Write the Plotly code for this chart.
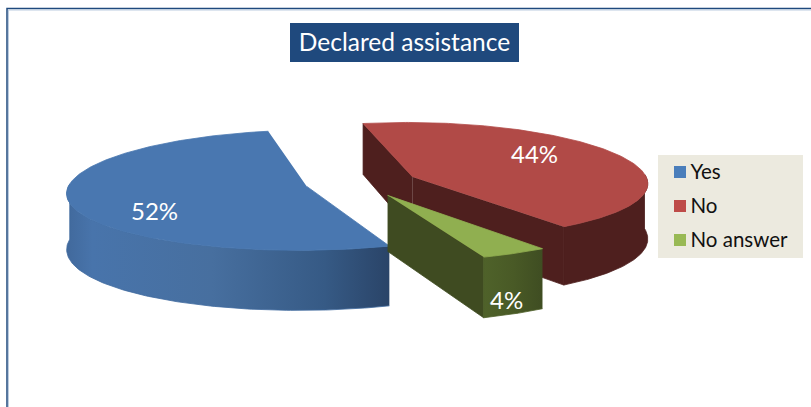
import numpy as np
import plotly.graph_objects as go

# Survey results
categories = ["Yes", "No", "No answer"]
shares = [52, 44, 4]
percent_labels = ["52%", "44%", "4%"]
chart_title = "Declared assistance"

# Slice colours
top_colors = ["#4977B0", "#B14A47", "#90AF50"]
wall_colors = ["#3F6A9E", "#4E1F1E", "#4E6028"]
cut_colors = ["#36598A", "#4E1F1E", "#3F4B21"]
swatch_colors = ["#4A7EBB", "#BE4B48", "#98B954"]
wall_gradients = [
    [(0.0, "#41699C"), (0.08, "#4874AB"), (0.45, "#476F9F"), (0.8, "#365A85"), (1.0, "#2A4468")],
    None,
    [(0.0, "#4F622A"), (0.5, "#495A26"), (1.0, "#3F4D22")],
]

# Pie geometry, in page pixels
WIDTH, HEIGHT = 811, 407
CX, CY = 361.5, 180
RADIUS_X, RADIUS_Y = 235, 58.5
PERSPECTIVE = 0.13
THICKNESS = 55
EXPLODE = 0.24
HUB_DROP = 2.5
START_ANGLE = 160.5


def project(x, z, drop=0.0):
    """Map pie-plane coordinates (z towards the viewer) to the page."""
    s = 1 / (1 - PERSPECTIVE * z)
    return CX + x * RADIUS_X * s, CY + z * RADIUS_Y * s ** 0.8 + drop * s ** 0.6


def rim(angle_deg):
    a = np.radians(angle_deg)
    return np.sin(a), -np.cos(a)


fig = go.Figure()

# Slices run clockwise from the start angle, each pulled out along its bisector
total = sum(shares)
spans = []
angle = START_ANGLE
for share in shares:
    sweep = share / total * 360
    spans.append((angle, angle + sweep))
    angle += sweep


def add_poly(xs, ys, color, gradient=None):
    trace = dict(x=list(xs), y=list(ys), mode="lines", fill="toself", fillcolor=color,
                 line=dict(width=0.8, color=color), hoverinfo="skip", showlegend=False)
    if gradient:
        stops, x0, x1 = gradient
        trace["fillgradient"] = dict(type="horizontal", colorscale=[list(s) for s in stops], start=x0, stop=x1)
    fig.add_trace(go.Scatter(**trace))


draw_order = [1, 0, 2]
for i in draw_order:
    a0, a1 = spans[i]
    ox, oz = rim((a0 + a1) / 2)
    ox, oz = ox * EXPLODE, oz * EXPLODE

    # Radial cut faces that turn towards the viewer
    for edge, away in ((a0, -90), (a1, 90)):
        if rim(edge + away)[1] > 0:
            ex, ez = rim(edge)
            top = [project(ox, oz, HUB_DROP), project(ox + ex, oz + ez)]
            bottom = [project(ox + ex, oz + ez, THICKNESS), project(ox, oz, THICKNESS + HUB_DROP)]
            pts = top + bottom
            add_poly([p[0] for p in pts], [p[1] for p in pts], cut_colors[i])

    # Outer wall: only the part of the rim on the viewer's side
    for front_lo, front_hi in ((90, 270), (450, 630)):
        lo, hi = max(a0, front_lo), min(a1, front_hi)
        if hi <= lo:
            continue
        t = np.linspace(lo, hi, 120)
        ex, ez = rim(t)
        tx, ty = project(ox + ex, oz + ez)
        bx, by = project(ox + ex, oz + ez, THICKNESS)
        xs = np.concatenate([tx, bx[::-1]])
        ys = np.concatenate([ty, by[::-1]])
        grad = None
        if wall_gradients[i]:
            grad = (wall_gradients[i], float(xs.min()), float(xs.max()))
        add_poly(xs, ys, wall_colors[i], grad)

    # Top face
    t = np.linspace(a0, a1, 200)
    ex, ez = rim(t)
    tx, ty = project(ox + ex, oz + ez)
    ax, ay = project(ox, oz, HUB_DROP)
    add_poly(np.r_[ax, tx], np.r_[ay, ty], top_colors[i])

# Legend entries
legend_x = [680] * 3
legend_y = [172, 206, 240]
fig.add_trace(go.Scatter(
    x=legend_x, y=legend_y, mode="markers",
    marker=dict(symbol="square", size=12, color=swatch_colors, line=dict(width=0)),
    hoverinfo="skip", showlegend=False,
))
fig.add_trace(go.Scatter(
    x=[v + 10.5 for v in legend_x], y=[v + 1.5 for v in legend_y], mode="text", text=categories,
    textposition="middle right", textfont=dict(family="Lato", size=20.5, color="#111111"),
    hoverinfo="skip", showlegend=False,
))

# Percentage labels on the slices
label_positions = [(154, 210), (534, 153), (506, 299)]
for text, (lx, ly) in zip(percent_labels, label_positions):
    fig.add_annotation(x=lx, y=ly, text=text, showarrow=False,
                       font=dict(family="Lato", size=24, color="white"))

# Frame, title plate and legend panel
shapes = [
    dict(type="path", path=f"M 7 {HEIGHT} L 7 8.5 L {WIDTH} 8.5", line=dict(color="#1F497D", width=1.5), layer="below"),
    dict(type="path", path=f"M 8.5 {HEIGHT} L 8.5 10 L {WIDTH} 10", line=dict(color="#BBCCE0", width=1), layer="below"),
    dict(type="rect", x0=290, x1=519, y0=23, y1=62, fillcolor="#1F497D", line=dict(width=0), layer="below"),
    dict(type="rect", x0=658, x1=803, y0=155, y1=258, fillcolor="#ECEADF", line=dict(width=0), layer="below"),
]

fig.update_layout(
    width=WIDTH, height=HEIGHT, margin=dict(l=0, r=0, t=0, b=0),
    paper_bgcolor="white", plot_bgcolor="white", showlegend=False,
    shapes=shapes,
    title=dict(text=chart_title, x=404.5 / WIDTH, xanchor="center", y=1 - 42.5 / HEIGHT, yanchor="middle",
               font=dict(family="Lato", size=24.5, color="white")),
    xaxis=dict(range=[0, WIDTH], visible=False, fixedrange=True),
    yaxis=dict(range=[HEIGHT, 0], visible=False, fixedrange=True),
)

fig.write_html("out.html", config=dict(displayModeBar=False))
